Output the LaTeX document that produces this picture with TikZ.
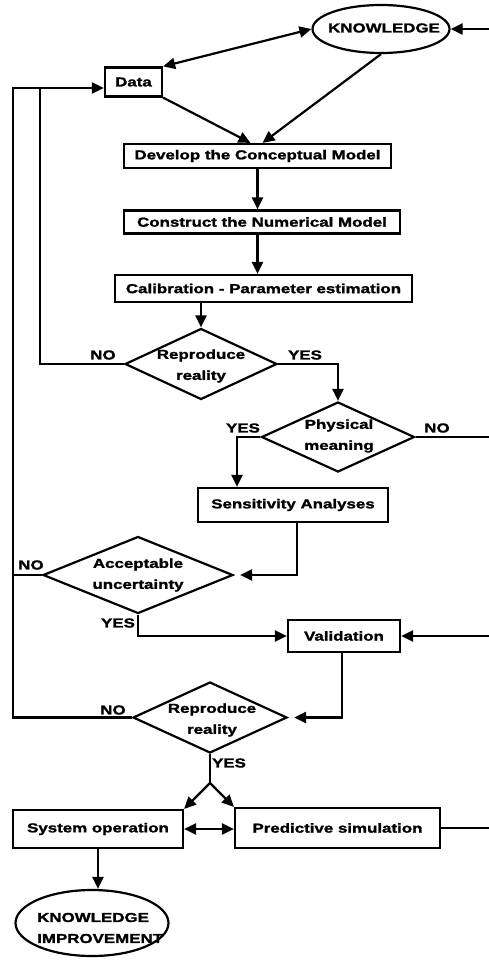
\documentclass[tikz,border=0pt]{standalone}
\usepackage{fontspec}
\setmainfont{Liberation Sans}
\newfontfamily\diafont{Liberation Sans}[FakeStretch=1.3,FakeBold=1.6]
\usetikzlibrary{arrows.meta,shapes.geometric}
\begin{document}
\begin{tikzpicture}[x=1pt,y=-1pt,
  every node/.style={font={\diafont\bfseries\fontsize{13}{21}\selectfont}},
  line/.style={line width=2.2pt},
  arr/.style={line, -{Triangle[length=12pt,width=11pt]}},
  darr/.style={line, {Triangle[length=12pt,width=11pt]}-{Triangle[length=12pt,width=11pt]}},
  box/.style={draw, line width=2.2pt, inner sep=0pt, rectangle},
  dia/.style={draw, line width=2.2pt, diamond, inner sep=0pt},
  ell/.style={draw, line width=2.2pt, ellipse, inner sep=0pt},
  txt/.style={inner sep=0pt, align=center},
  lab/.style={inner sep=0pt}]
\useasboundingbox (0,0) rectangle (489,961);

% shapes
\node[ell, minimum width=137pt, minimum height=48pt] (know) at (381,29) {};
\node[txt] (knowt) at (384,28) {KNOWLEDGE};
\node[box, minimum width=57pt, minimum height=29pt] (data) at (133.5,82) {Data};
\node[box, minimum width=267pt, minimum height=24pt] (dev) at (257.5,156) {Develop the Conceptual Model};
\node[box, minimum width=276pt, minimum height=23pt] (cons) at (262,222) {Construct the Numerical Model};
\node[box, minimum width=297pt, minimum height=27pt] (cal) at (263.5,288.5) {Calibration - Parameter estimation};
\node[dia, minimum width=152pt, minimum height=71pt] (d1) at (201,364) {};
\node[txt] (d1t) at (201,366) {Reproduce\\reality};
\node[dia, minimum width=153pt, minimum height=70pt] (d2) at (338,437) {};
\node[txt] (d2t) at (339,436) {Physical\\meaning};
\node[box, minimum width=190pt, minimum height=34pt] (sens) at (293,505) {Sensitivity Analyses};
\node[dia, minimum width=190pt, minimum height=77pt] (d3) at (138,575) {};
\node[txt] (d3t) at (138,575) {Acceptable\\uncertainty};
\node[box, minimum width=112pt, minimum height=32pt] (val) at (344,636) {Validation};
\node[dia, minimum width=154pt, minimum height=71pt] (d4) at (210,717.5) {};
\node[txt] (d4t) at (212,720) {Reproduce\\reality};
\node[box, minimum width=170pt, minimum height=38pt] (sys) at (98,829) {System operation};
\node[box, minimum width=205pt, minimum height=40pt] (pred) at (337.5,828) {Predictive simulation};
\node[ell, minimum width=153pt, minimum height=66pt] (kimp) at (92,923) {};
\node[txt, align=left, anchor=west] (kimpt) at (37,928) {KNOWLEDGE\\IMPROVEMENT};

% labels
\node[lab] (no1) at (103,355) {NO};
\node[lab] (yes1) at (305,355) {YES};
\node[lab] (yes2) at (243,428) {YES};
\node[lab] (no2) at (437,428) {NO};
\node[lab] (no3) at (31,565) {NO};
\node[lab] (yes3) at (118,623) {YES};
\node[lab] (no4) at (113,710) {NO};
\node[lab] (yes4) at (229,763) {YES};

% coordinates
\coordinate (in1) at (489,29);
\coordinate (L1) at (13,88);
\coordinate (L2) at (40,88);
\coordinate (ys) at (237,0);
\coordinate (out1) at (489,437);
\coordinate (in2) at (489,636);
\coordinate (split) at (210,783);
\coordinate (out2) at (489,828);

% connectors
\draw[arr] (in1) -- (know.east);
\draw[darr] (data.north east) -- (know.west);
\draw[arr] (data.south east) -- ([xshift=-7pt]dev.north);
\draw[arr] (know.south) -- ([xshift=5pt]dev.north);
\draw[arr] (dev.south) -- (dev.south |- cons.north);
\draw[arr] (cons.south -| dev.south) -- (dev.south |- cal.north);
\draw[arr] (cal.south -| d1.north) -- (d1.north);
\draw[arr] (d1.west) -| (L2) -- (data.west |- L2);
\draw[line] (d4.west) -| (L1) -- (L2);
\draw[line] (d3.west) -- (d3.west -| L1);
\draw[arr] (d1.east) -| (d2.north);
\draw[arr] (d2.west) -| (ys |- sens.north);
\draw[line] (d2.east) -- (out1);
\draw[arr, shorten >=6pt] ([xshift=4pt]sens.south) |- (d3.east);
\draw[arr] (d3.south) |- (val.west);
\draw[arr] (in2) -- (val.east);
\draw[arr, shorten >=6pt] ([xshift=-2pt]val.south) |- (d4.east);
\draw[line] (d4.south) -- (split);
\draw[arr] (split) -- (sys.north east);
\draw[arr] (split) -- (pred.north west);
\draw[darr] (sys.east) -- (sys.east -| pred.west);
\draw[line] (pred.east) -- (out2);
\draw[arr] (sys.south) -- (sys.south |- kimp.north);
\end{tikzpicture}
\end{document}
